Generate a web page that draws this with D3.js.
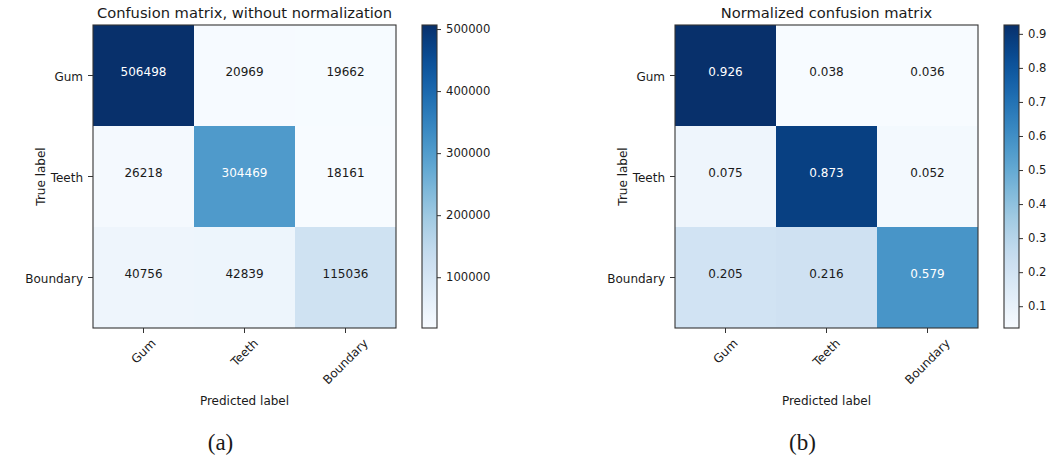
<!DOCTYPE html>
<html>
<head>
<meta charset="utf-8">
<script src="https://cdn.jsdelivr.net/npm/d3@7"></script>
<style>
  html, body { margin: 0; padding: 0; background: #fff; }
  svg text { font-family: "DejaVu Sans", sans-serif; fill: #1a1a1a; }
</style>
</head>
<body>
<svg id="chart" width="1050" height="460"></svg>
<script>
// ---- Data ----
const classes = ["Gum", "Teeth", "Boundary"];
const countsMatrix = [
  [506498, 20969, 19662],
  [26218, 304469, 18161],
  [40756, 42839, 115036]
];
const normalizedMatrix = [
  [0.926, 0.038, 0.036],
  [0.075, 0.873, 0.052],
  [0.205, 0.216, 0.579]
];
const countsTicks = [100000, 200000, 300000, 400000, 500000];
const normTicks = [0.1, 0.2, 0.3, 0.4, 0.5, 0.6, 0.7, 0.8, 0.9];
const titles = ["Confusion matrix, without normalization", "Normalized confusion matrix"];
const captions = ["(a)", "(b)"];

const svg = d3.select("#chart");
const frameColor = "#333";

function drawPanel(opts) {
  const { left, top, size, matrix, ticks, fmt, tickFmt, title, caption, id } = opts;
  const g = svg.append("g");
  const flat = matrix.flat();
  const vmin = d3.min(flat), vmax = d3.max(flat);
  const color = d3.scaleSequential(d3.interpolateBlues).domain([vmin, vmax]);
  const x = d3.scaleBand().domain(classes).range([left, left + size]);
  const y = d3.scaleBand().domain(classes).range([top, top + size]);
  const thresh = vmax / 2;

  // cells
  matrix.forEach((row, i) => {
    row.forEach((v, j) => {
      g.append("rect")
        .attr("x", x(classes[j])).attr("y", y(classes[i]))
        .attr("width", x.bandwidth()).attr("height", y.bandwidth())
        .attr("fill", color(v)).attr("shape-rendering", "crispEdges");
      g.append("text")
        .attr("x", x(classes[j]) + x.bandwidth() / 2)
        .attr("y", y(classes[i]) + y.bandwidth() / 2 + 0.5)
        .attr("text-anchor", "middle")
        .style("font-size", "12px")
        .style("fill", v > thresh ? "#ffffff" : "#1a1a1a")
        .text(fmt(v));
    });
  });
  // frame
  g.append("rect").attr("x", left).attr("y", top).attr("width", size).attr("height", size)
    .attr("fill", "none").attr("stroke", frameColor).attr("stroke-width", 1.1);

  // y ticks
  classes.forEach(c => {
    const cy = y(c) + y.bandwidth() / 2;
    g.append("line").attr("x1", left - 5).attr("x2", left).attr("y1", cy).attr("y2", cy)
      .attr("stroke", frameColor).attr("stroke-width", 1);
    g.append("text").attr("x", left - 10).attr("y", cy + 5)
      .attr("text-anchor", "end").style("font-size", "12px").text(c);
  });
  // x ticks
  classes.forEach(c => {
    const cx = x(c) + x.bandwidth() / 2;
    g.append("line").attr("x1", cx).attr("x2", cx).attr("y1", top + size).attr("y2", top + size + 5)
      .attr("stroke", frameColor).attr("stroke-width", 1);
    const t = g.append("text").attr("text-anchor", "middle")
      .attr("dominant-baseline", "central")
      .style("font-size", "12px").text(c);
    const w = t.node().getComputedTextLength();
    const h = 12;
    const half = (w + h) / (2 * Math.SQRT2);
    const cyT = top + size + 9 + half;
    t.attr("transform", `translate(${cx},${cyT}) rotate(-45)`);
  });

  // axis labels
  g.append("text").attr("x", left + size / 2).attr("y", top + size + 77)
    .attr("text-anchor", "middle").style("font-size", "12px").text("Predicted label");
  g.append("text").attr("transform", `translate(${left - 48},${top + size / 2}) rotate(-90)`)
    .attr("text-anchor", "middle").style("font-size", "12px").text("True label");

  // title
  g.append("text").attr("x", left + size / 2).attr("y", top - 7.5)
    .attr("text-anchor", "middle").style("font-size", "14.7px").text(title);

  // caption
  g.append("text").attr("x", left + size / 2 - 24).attr("y", top + size + 122)
    .attr("text-anchor", "middle")
    .style("font-family", "'Liberation Serif', 'DejaVu Serif', serif")
    .style("font-size", "23px").text(caption);

  // colorbar
  const cbX = left + size + 26, cbW = 15;
  const cs = d3.scaleLinear().domain([vmin, vmax]).range([top + size, top]);
  const grad = svg.append("defs").append("linearGradient").attr("id", id)
    .attr("x1", 0).attr("y1", 1).attr("x2", 0).attr("y2", 0);
  d3.range(0, 1.0001, 0.02).forEach(p => {
    grad.append("stop").attr("offset", p).attr("stop-color", d3.interpolateBlues(p));
  });
  g.append("rect").attr("x", cbX).attr("y", top).attr("width", cbW).attr("height", size)
    .attr("fill", `url(#${id})`).attr("stroke", frameColor).attr("stroke-width", 1.1);
  const axis = d3.axisRight(cs).tickValues(ticks).tickSize(4).tickPadding(5).tickFormat(tickFmt);
  const ag = g.append("g").attr("transform", `translate(${cbX + cbW},0)`).call(axis);
  ag.select(".domain").remove();
  ag.selectAll("line").attr("stroke", frameColor);
  ag.selectAll("text").style("font-size", "11.6px")
    .style("font-family", "'DejaVu Sans', sans-serif").attr("fill", "#1a1a1a");
}

drawPanel({
  left: 93, top: 25, size: 303, matrix: countsMatrix, ticks: countsTicks,
  fmt: d => String(d), tickFmt: d => String(d),
  title: titles[0], caption: captions[0], id: "gradA"
});
drawPanel({
  left: 675, top: 25, size: 303, matrix: normalizedMatrix, ticks: normTicks,
  fmt: d => d.toFixed(3), tickFmt: d => d.toFixed(1),
  title: titles[1], caption: captions[1], id: "gradB"
});
</script>
</body>
</html>
